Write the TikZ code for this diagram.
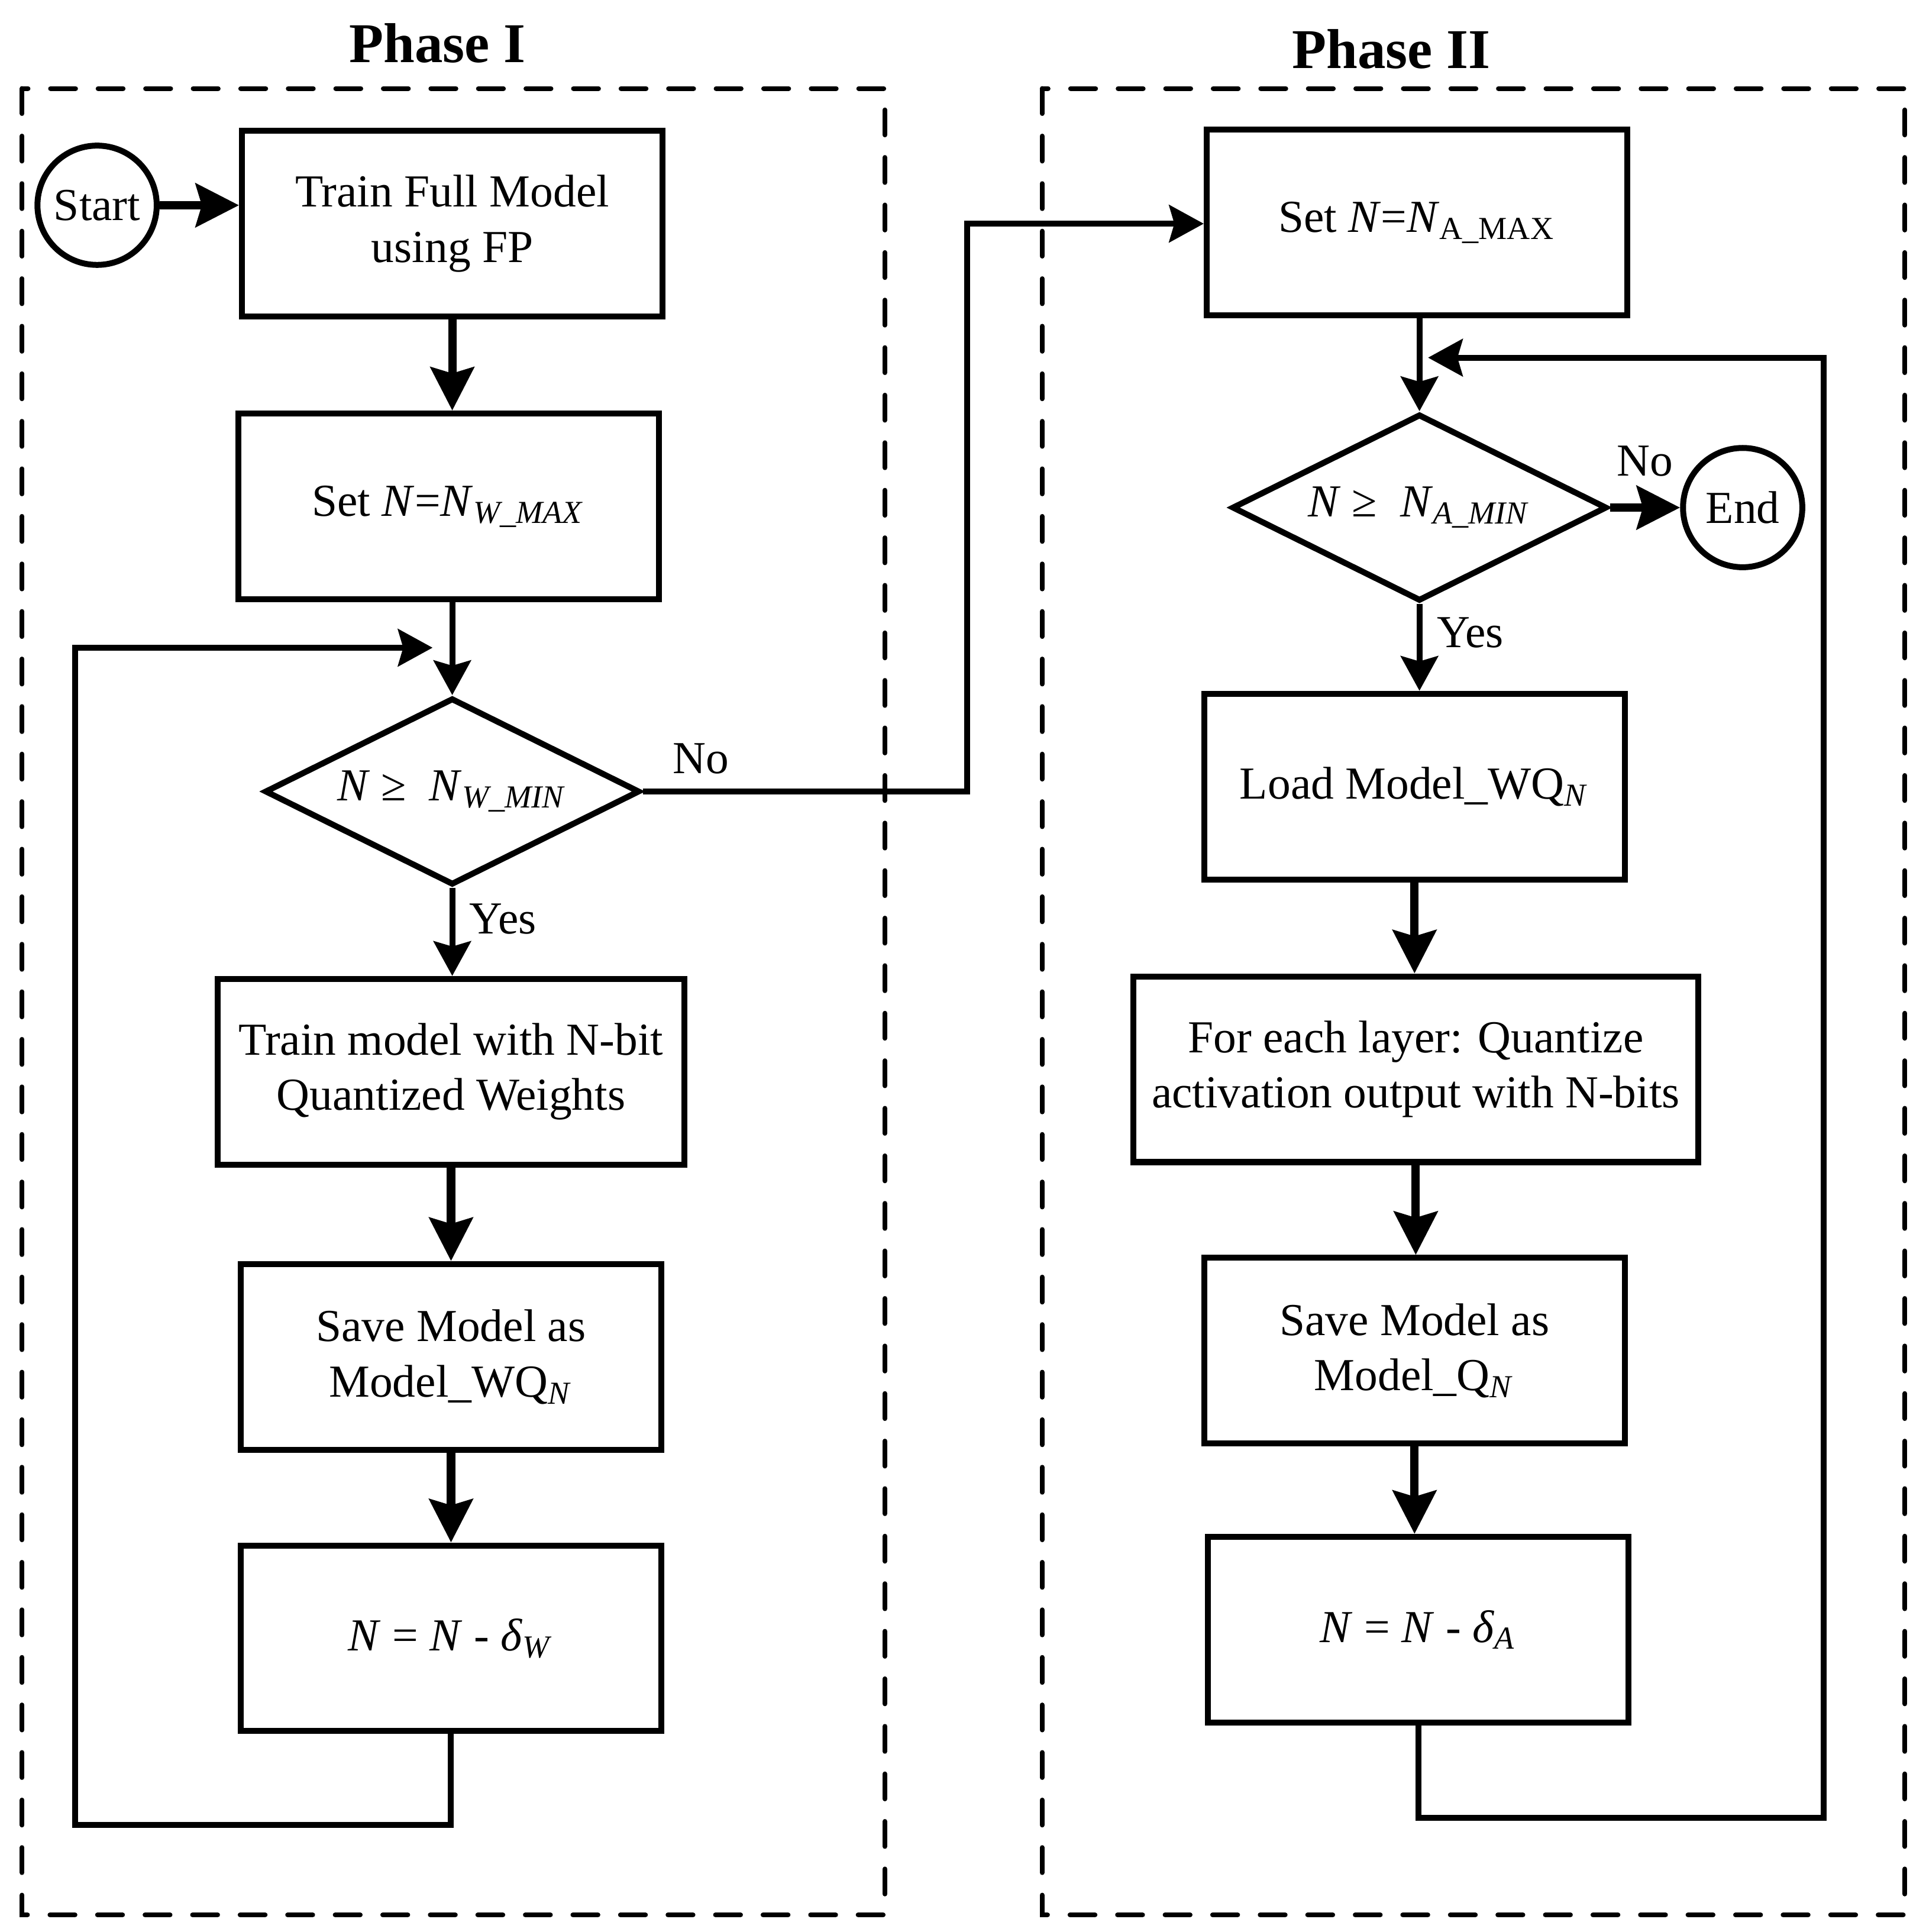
\documentclass[tikz,border=0pt]{standalone}
\usepackage{fontspec}
\setmainfont{Liberation Serif}
\usetikzlibrary{arrows.meta,shapes.geometric}

\newcommand{\flowfont}{\fontsize{10.6}{12.8}\selectfont}

\tikzset{%
        every block/.style={
            rectangle,
            draw,
            line width=1.37pt,
            minimum width=3.42cm,
            minimum height=1.51cm,
            inner sep=0pt,
            align=center,
            font=\flowfont
        },
        block wide/.style={
            minimum width=3.8cm
        },
        block wider/.style={
            minimum width=4.59cm
        },
        block decision/.style={
            diamond,
            aspect=2,
            minimum width=3.05cm,
            minimum height=1.52cm
        },
        block terminal/.style={
            circle,
            minimum size=0.97cm
        },
        flow/.style={
            line width=1.37pt,
            -{Stealth[length=8pt, width=8.6pt, inset=1.2pt]}
        },
        flow thick/.style={
            line width=1.92pt,
            -{Stealth[length=10pt, width=10pt, inset=1.4pt]}
        },
        branch label/.style={
            font=\flowfont
        },
        phase frame/.style={
            line width=1.1pt,
            dash pattern=on 5.8pt off 5.2pt,
            line cap=round
        },
        phase title/.style={
            font=\fontsize{13}{15}\selectfont\bfseries
        },
    }

\begin{document}
\begin{tikzpicture}[x=0.01cm, y=-0.01cm]

        \useasboundingbox (0,0) rectangle (1567,1572);

        \draw [phase frame] (18,72) rectangle (720,1558);
        \draw [phase frame] (848,72) rectangle (1550,1558);
        \node [phase title] (title-1) at (356,35) {Phase I};
        \node [phase title] (title-2) at (1132,40) {Phase II};

        % Phase I
        \node [every block/.try, block terminal/.try] (start) at (79,167) {Start};
        \node [every block/.try] (trainfp) at (368,182) {Train Full Model\\using FP};
        \node [every block/.try] (setw) at (365,412) {Set \textit{N}=\textit{N}\textsubscript{\textit{W\_MAX}}};
        \node [every block/.try, block decision/.try] (dw) at (368,644) {\textit{N} ≥ \ \textit{N}\textsubscript{\textit{W\_MIN}}};
        \node [every block/.try, block wide/.try] (trainq) at (367,872) {Train model with N-bit\\Quantized Weights};
        \node [every block/.try] (savew) at (367,1104) {Save Model as\\Model\_WQ\textsubscript{\textit{N}}};
        \node [every block/.try] (decw) at (367,1333) {\textit{N} = \textit{N} - \textit{δ}\textsubscript{\textit{W}}};

        % Phase II
        \node [every block/.try] (seta) at (1153,181) {Set \textit{N}=\textit{N}\textsubscript{A\_MAX}};
        \node [every block/.try, block decision/.try] (da) at (1155,413) {\textit{N} ≥ \ \textit{N}\textsubscript{\textit{A\_MIN}}};
        \node [every block/.try, block terminal/.try] (end) at (1418,413) {End};
        \node [every block/.try] (load) at (1151,640) {Load Model\_WQ\textsubscript{\textit{N}}};
        \node [every block/.try, block wider/.try] (quant) at (1152,870) {For each layer: Quantize\\activation output with N-bits};
        \node [every block/.try] (savea) at (1151,1099) {Save Model as\\Model\_Q\textsubscript{\textit{N}}};
        \node [every block/.try] (deca) at (1154,1326) {\textit{N} = \textit{N} - \textit{δ}\textsubscript{\textit{A}}};

        \coordinate (loopw) at (61,1485);
        \coordinate (joinw) at (352,527);
        \coordinate (nob) at (787,182);
        \coordinate (loopa) at (1484,1479);
        \coordinate (joina) at (1162,291);

        \draw [flow thick] (start.east) -- (start.east -| trainfp.west);

        \foreach \a/\b in {trainfp/setw, trainq/savew, savew/decw, load/quant, quant/savea, savea/deca}
            \draw [flow thick] (\a.south) -- (\a.south |- \b.north);

        \draw [flow] (setw.south -| dw.north) -- (dw.north);
        \draw [flow] (dw.south) -- (dw.south |- trainq.north)
            node [pos=0.35, right, branch label] {Yes};
        \draw [flow] (decw.south) |- (loopw) |- (joinw);
        \draw [flow] (dw.east) -| (nob)
            node [pos=0.09, above, branch label] {No} -- (nob -| seta.west);

        \draw [flow] (seta.south -| da.north) -- (da.north);
        \draw [flow thick] (da.east) -- (end.west)
            node [midway, above=3pt, branch label] {No};
        \draw [flow] (da.south) -- (da.south |- load.north)
            node [pos=0.33, right, branch label] {Yes};
        \draw [flow] (deca.south) |- (loopa) |- (joina);
    \end{tikzpicture}
\end{document}
